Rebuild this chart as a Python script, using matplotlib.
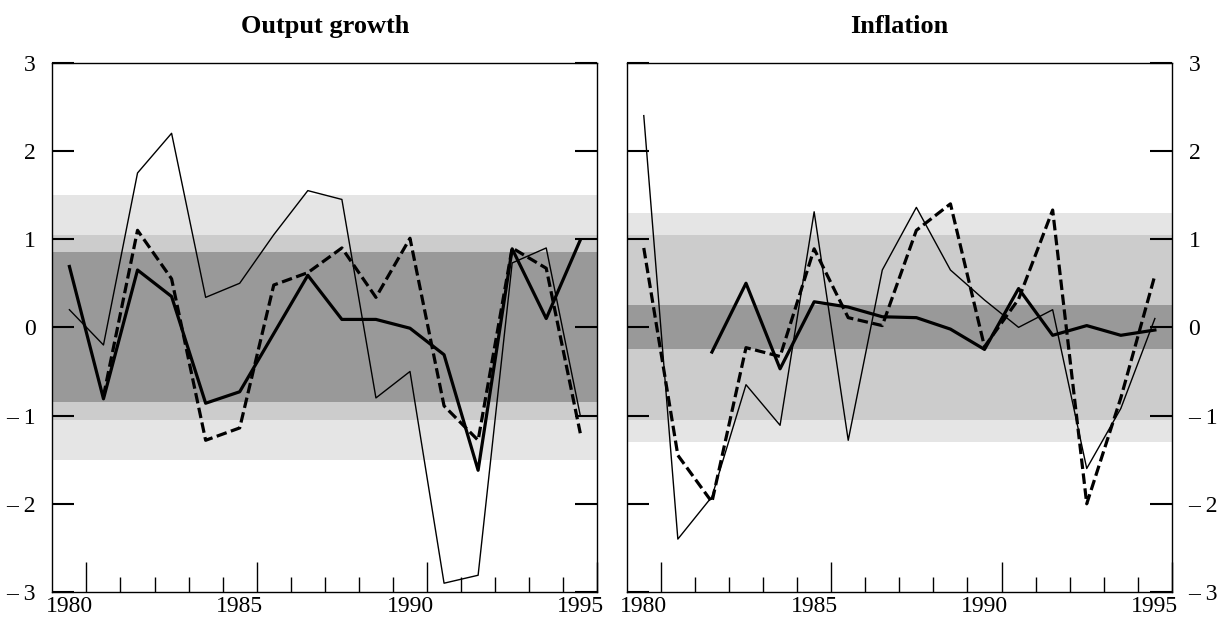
import numpy as np
import matplotlib
matplotlib.use("Agg")
import matplotlib.pyplot as plt
import matplotlib.transforms as mtransforms

plt.rcParams['font.family'] = ['Liberation Serif', 'DejaVu Serif']

nan = np.nan
years = np.arange(1980, 1996)

# Output growth
growth_thin = [0.20, -0.20, 1.75, 2.20, 0.34, 0.50, 1.05, 1.55, 1.45, -0.80, -0.50, -2.90, -2.81, 0.73, 0.90, -1.00]
growth_thick = [0.69, -0.81, 0.65, 0.35, -0.86, -0.73, -0.07, 0.59, 0.09, 0.09, -0.01, -0.31, -1.62, 0.89, 0.10, 0.99]
growth_dashed = [nan, -0.78, 1.10, 0.55, -1.28, -1.14, 0.48, 0.62, 0.90, 0.34, 1.01, -0.89, -1.28, 0.90, 0.67, -1.20]
# shaded bands: (upper, lower) for light, medium, dark
growth_bands = [(1.50, -1.50), (1.05, -1.05), (0.85, -0.85)]

# Inflation
infl_thin = [2.40, -2.40, -1.92, -0.65, -1.11, 1.31, -1.28, 0.65, 1.36, 0.65, 0.31, 0.00, 0.20, -1.60, -0.92, 0.10]
infl_thick = [nan, nan, -0.28, 0.50, -0.47, 0.29, 0.23, 0.12, 0.11, -0.02, -0.25, 0.44, -0.09, 0.02, -0.09, -0.03]
infl_dashed = [0.90, -1.45, -1.98, -0.23, -0.33, 0.89, 0.11, 0.02, 1.10, 1.40, -0.22, 0.32, 1.33, -2.00, -0.80, 0.59]
infl_bands = [(1.30, -1.30), (1.05, -1.05), (0.25, -0.25)]

band_colors = ['#e5e5e5', '#cccccc', '#999999']
ytick_vals = [3, 2, 1, 0, -1, -2, -3]
ytick_labels = ['3', '2', '1', '0', '\u2013 1', '\u2013 2', '\u2013 3']
xlabel_years = [1980, 1985, 1990, 1995]

fig = plt.figure(figsize=(12.21, 6.22), dpi=100)
ax1 = fig.add_axes([0.0429, 0.0482, 0.4463, 0.851])
ax2 = fig.add_axes([0.5133, 0.0482, 0.4465, 0.851])

fs = 17


def draw_panel(ax, thin, thick, dashed, bands, title, label_side):
    for (hi, lo), c in zip(bands, band_colors):
        ax.axhspan(lo, hi, color=c, lw=0, zorder=0)
    ax.plot(years, thin, color='black', lw=1.0, zorder=2)
    ax.plot(years, thick, color='black', lw=2.3, zorder=3)
    ax.plot(years, dashed, color='black', lw=2.3, dashes=(3.3, 1.4), zorder=4)

    ax.set_xlim(1979.5, 1995.5)
    ax.set_ylim(-3, 3)
    for s in ax.spines.values():
        s.set_linewidth(1.0)

    # y ticks inward on both sides
    ax.set_yticks(ytick_vals)
    ax.set_yticklabels(ytick_labels, fontsize=fs)
    ax.tick_params(axis='y', direction='in', length=15.5, width=1.5,
                   left=True, right=True,
                   labelleft=(label_side == 'left'),
                   labelright=(label_side == 'right'), pad=12)

    # long ticks every five years, short ticks every year
    major = [y + 0.5 for y in xlabel_years]
    minor = [y + 0.5 for y in years[:-1] if y + 0.5 not in major]
    ax.set_xticks(major)
    ax.set_xticklabels([str(y) for y in xlabel_years], fontsize=fs)
    ax.set_xticks(minor, minor=True)
    ax.tick_params(axis='x', which='major', direction='in', length=21.5, width=1.0, pad=3)
    ax.tick_params(axis='x', which='minor', direction='in', length=10.8, width=1.0)
    shift = mtransforms.ScaledTranslation(-0.17, 0, fig.dpi_scale_trans)
    for lab in ax.get_xticklabels():
        lab.set_transform(lab.get_transform() + shift)

    bb = ax.get_position()
    fig.text((bb.x0 + bb.x1) / 2, 1 - 33 / 622, title, ha='center', va='baseline',
             fontsize=19, fontweight='bold')


draw_panel(ax1, growth_thin, growth_thick, growth_dashed, growth_bands, 'Output growth', 'left')
draw_panel(ax2, infl_thin, infl_thick, infl_dashed, infl_bands, 'Inflation', 'right')

fig.savefig('out.png', dpi=100)
